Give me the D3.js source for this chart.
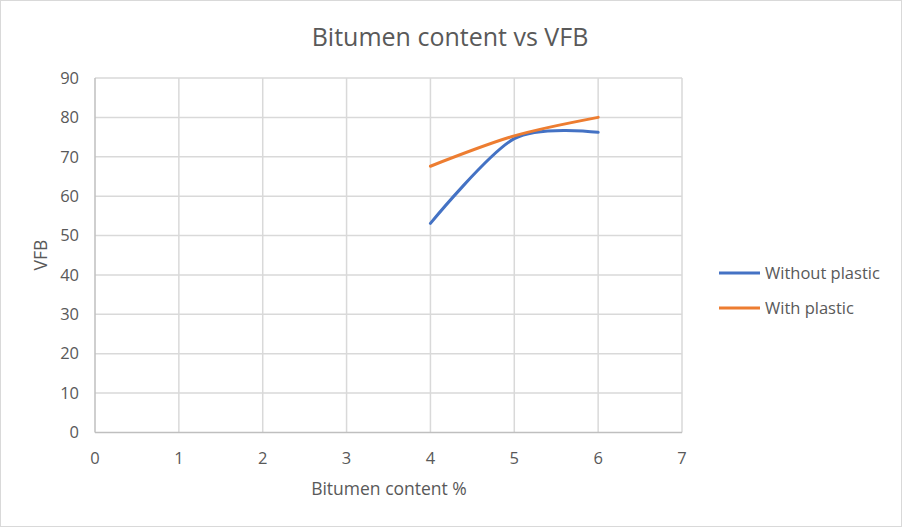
<!DOCTYPE html>
<html><head><meta charset="utf-8">
<script src="https://cdn.jsdelivr.net/npm/d3@7"></script>
<style>body{margin:0;background:#fff}svg{display:block}text{font-family:"Open Sans",sans-serif;fill:#595959}</style>
</head><body><svg id="c" width="902" height="527"></svg>
<script>
const bitumen = [4, 5, 6];
const withoutPlastic = [53.1, 74.6, 76.2];
const withPlastic = [67.6, 75.3, 80.0];
const seriesNames = ["Without plastic", "With plastic"];
const seriesColors = ["#4472C4", "#ED7D31"];
const xTicks = [0,1,2,3,4,5,6,7];
const yTicks = [0,10,20,30,40,50,60,70,80,90];

const svg = d3.select("#c");
svg.append("rect").attr("x",0.5).attr("y",0.5).attr("width",901).attr("height",526).attr("fill","#fff").attr("stroke","#d9d9d9");
const L=95,R=682,T=78,B=432.5;
const x = d3.scaleLinear().domain([0,7]).range([L,R]);
const y = d3.scaleLinear().domain([0,90]).range([B,T]);

const g = svg.append("g");
g.selectAll(".hg").data(yTicks.filter(d=>d>0)).join("line")
 .attr("x1",L).attr("x2",R).attr("y1",d=>y(d)).attr("y2",d=>y(d)).attr("stroke","#d9d9d9").attr("stroke-width",1.5);
g.selectAll(".vg").data(xTicks.filter(d=>d>0)).join("line")
 .attr("y1",T).attr("y2",B).attr("x1",d=>x(d)).attr("x2",d=>x(d)).attr("stroke","#d9d9d9").attr("stroke-width",1.5);
g.append("line").attr("x1",L).attr("x2",L).attr("y1",T).attr("y2",B).attr("stroke","#bfbfbf").attr("stroke-width",1.5);
g.append("line").attr("x1",L).attr("x2",R).attr("y1",B).attr("y2",B).attr("stroke","#bfbfbf").attr("stroke-width",1.5);

g.selectAll(".yt").data(yTicks).join("text").attr("x",79).attr("y",d=>y(d)).attr("dy","0.35em")
 .attr("text-anchor","end").attr("font-size",16.5).text(d=>d);
g.selectAll(".xt").data(xTicks).join("text").attr("x",d=>x(d)).attr("y",458).attr("dy","0.35em")
 .attr("text-anchor","middle").attr("font-size",16.5).text(d=>d);

svg.append("text").attr("x",450).attr("y",37).attr("dy","0.35em").attr("text-anchor","middle").attr("font-size",25).text("Bitumen content vs VFB");
svg.append("text").attr("x",389).attr("y",489).attr("dy","0.35em").attr("text-anchor","middle").attr("font-size",17.5).text("Bitumen content %");
svg.append("text").attr("transform","translate(41,255) rotate(-90)").attr("dy","0.35em").attr("text-anchor","middle").attr("font-size",17.5).text("VFB");

const line = d3.line().x(d=>x(d[0])).y(d=>y(d[1])).curve(d3.curveCardinal.tension(0.1));
[withoutPlastic, withPlastic].forEach((vals,i)=>{
  svg.append("path").datum(bitumen.map((b,j)=>[b,vals[j]])).attr("d",line)
   .attr("fill","none").attr("stroke",seriesColors[i]).attr("stroke-width",3).attr("stroke-linecap","round");
});

const leg = svg.append("g");
seriesNames.forEach((n,i)=>{
  const yy = 273 + i*35;
  leg.append("line").attr("x1",719).attr("x2",760).attr("y1",yy).attr("y2",yy).attr("stroke",seriesColors[i]).attr("stroke-width",3);
  leg.append("text").attr("x",765).attr("y",yy).attr("dy","0.35em").attr("font-size",16.5).text(n);
});
</script></body></html>
